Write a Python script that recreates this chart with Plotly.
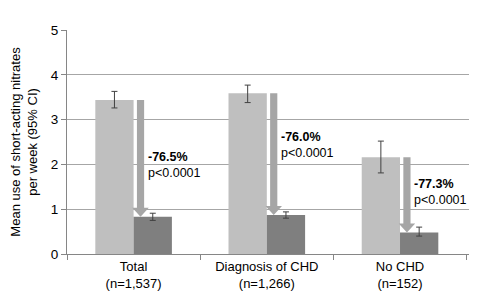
import plotly.graph_objects as go

# ---------------- data ----------------
categories = ["Total<br>(n=1,537)", "Diagnosis of CHD<br>(n=1,266)", "No CHD<br>(n=152)"]
baseline = [3.44, 3.59, 2.16]
baseline_hi = [3.63, 3.77, 2.52]
baseline_lo = [3.26, 3.38, 1.81]
followup = [0.83, 0.87, 0.48]
followup_hi = [0.91, 0.94, 0.60]
followup_lo = [0.75, 0.80, 0.40]
change_pct = ["-76.5%", "-76.0%", "-77.3%"]
p_values = ["p&lt;0.0001", "p&lt;0.0001", "p&lt;0.0001"]
series_names = ["Baseline", "Follow-up"]

# ---------------- style ----------------
FONT = "Liberation Sans, Arial, sans-serif"
C_BASE = "#bfbfbf"
C_FOLL = "#7f7f7f"
C_ARROW = "#a6a6a6"
C_ERR = "#404040"
C_GRID = "#a6a6a6"
C_AXIS = "#868686"

BARGAP = 0.425
ARROW_DX = 0.052      # arrow centre offset from category centre (category units)
SHAFT_HW = 0.027
HEAD_HW = 0.062
HEAD_H = 0.2          # head height in data units
LABEL_DX = 0.09
label_y = [1.99, 2.44, 1.39]

fig = go.Figure()
fig.add_trace(go.Bar(
    x=categories, y=baseline, name=series_names[0],
    marker=dict(color=C_BASE, line=dict(width=0)),
    error_y=dict(type="data", symmetric=False,
                 array=[h - v for h, v in zip(baseline_hi, baseline)],
                 arrayminus=[v - l for l, v in zip(baseline_lo, baseline)],
                 color=C_ERR, thickness=1, width=3),
))
fig.add_trace(go.Bar(
    x=categories, y=followup, name=series_names[1],
    marker=dict(color=C_FOLL, line=dict(width=0)),
    error_y=dict(type="data", symmetric=False,
                 array=[h - v for h, v in zip(followup_hi, followup)],
                 arrayminus=[v - l for l, v in zip(followup_lo, followup)],
                 color=C_ERR, thickness=1, width=3),
))

shapes = []
annotations = []
for i, (b, f, pct, pv, ly) in enumerate(zip(baseline, followup, change_pct, p_values, label_y)):
    cx = i + ARROW_DX
    neck = f + HEAD_H
    path = (f"M {cx - SHAFT_HW} {b} L {cx + SHAFT_HW} {b} L {cx + SHAFT_HW} {neck} "
            f"L {cx + HEAD_HW} {neck} L {cx} {f} L {cx - HEAD_HW} {neck} "
            f"L {cx - SHAFT_HW} {neck} Z")
    shapes.append(dict(type="path", path=path, xref="x", yref="y",
                       fillcolor=C_ARROW, line=dict(width=0), layer="above"))
    annotations.append(dict(
        x=i + LABEL_DX, y=ly, xref="x", yref="y", xanchor="left", yanchor="middle",
        text=f"<b>{pct}</b><br>{pv}", showarrow=False, align="left",
        font=dict(family=FONT, size=12.5, color="#000000"),
    ))

fig.update_layout(
    width=484, height=305,
    margin=dict(l=59, r=23, t=22, b=59, autoexpand=False),
    paper_bgcolor="white", plot_bgcolor="white",
    barmode="group", bargap=BARGAP, bargroupgap=0,
    font=dict(family=FONT, size=13, color="#000000"),
    showlegend=True,
    legend=dict(orientation="h", xref="container", yref="container",
                x=124 / 484, xanchor="left", y=1.026, yanchor="top",
                font=dict(family=FONT, size=13, color="#000000"),
                entrywidth=96, entrywidthmode="pixels",
                bgcolor="rgba(0,0,0,0)"),
    shapes=shapes,
    annotations=annotations,
)
fig.update_xaxes(
    type="category", tickson="boundaries", ticks="outside", ticklen=5,
    tickcolor=C_AXIS, showline=True, linecolor=C_AXIS, linewidth=1,
    showgrid=False, tickfont=dict(family=FONT, size=13, color="#000000"),
)
fig.update_yaxes(
    range=[0, 5], dtick=1, tick0=0, ticks="outside", ticklen=5, tickcolor=C_AXIS,
    showline=True, linecolor=C_AXIS, linewidth=1,
    showgrid=True, gridcolor=C_GRID, gridwidth=1, zeroline=False,
    tickfont=dict(family=FONT, size=13.5, color="#000000"),
    title=dict(text="Mean use of short-acting nitrates<br>per week (95% CI)",
               font=dict(family=FONT, size=13, color="#000000"), standoff=14),
)

fig.write_html("out.html")
